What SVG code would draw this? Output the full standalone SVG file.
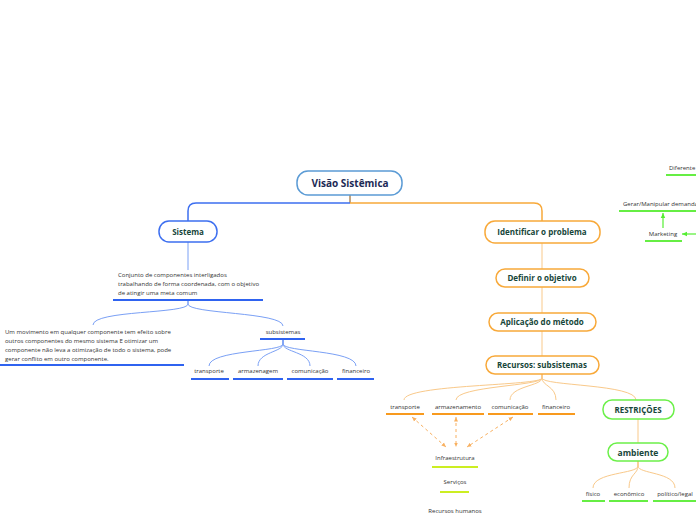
<svg xmlns="http://www.w3.org/2000/svg" width="696" height="520" viewBox="0 0 696 520">
<defs>
<style>
.node{fill:#fff;stroke-width:1.5}
.blue{stroke:#3d6ff0}
.lblue{stroke:#5b9bd5}
.orange{stroke:#f8a93a}
.green{stroke:#6cf04a}
.nt{font-family:"Open Sans","Noto Sans",sans-serif;font-weight:bold;fill:#17463a;text-anchor:middle}
.lt{font-family:"Open Sans","Noto Sans",sans-serif;font-size:6px;fill:#333}
.ltc{font-family:"Open Sans","Noto Sans",sans-serif;font-size:6px;fill:#333;text-anchor:middle}
.ub{stroke:#2f63f0;stroke-width:2}
.uo{stroke:#f89a1e;stroke-width:2}
.ug{stroke:#66ee44;stroke-width:2}
.uy{stroke:#ccee22;stroke-width:2}
.cb{fill:none;stroke:#7aa0f5;stroke-width:1}
.co{fill:none;stroke:#f9c98a;stroke-width:1}
.rel{fill:none;stroke:#f8b060;stroke-width:1;stroke-dasharray:3,3}
.gar{fill:none;stroke:#55ee33;stroke-width:1.2}
</style>
<marker id="ao" viewBox="0 0 10 10" refX="9" refY="5" markerWidth="5" markerHeight="5" orient="auto-start-reverse"><path d="M0,1 L9,5 L0,9 z" fill="#f8b060"/></marker>
<marker id="ag" viewBox="0 0 10 10" refX="9" refY="5" markerWidth="5" markerHeight="5" orient="auto"><path d="M0,1 L9,5 L0,9 z" fill="#55ee33"/></marker>
</defs>

<g id="connectors">
<path d="M350,195 V203" stroke="#b08a5a" stroke-width="1.5" fill="none"/>
<path d="M350,203 H196 Q188,203 188,211 V221" stroke="#3d6ff0" stroke-width="1.5" fill="none"/>
<path d="M350,203 H534 Q542,203 542,211 V221" stroke="#f8a93a" stroke-width="1.5" fill="none"/>
<path class="cb" d="M188,242 V270"/>
<path class="cb" d="M188,301 V304 C188,314 93,310 93,325"/>
<path class="cb" d="M188,301 V304 C188,314 283,312 283,326"/>
<path class="cb" d="M283,340 V344 C283,352 209,350 209,366"/>
<path class="cb" d="M283,340 V344 C283,352 258,352 258,366"/>
<path class="cb" d="M283,340 V344 C283,352 310,352 310,366"/>
<path class="cb" d="M283,340 V344 C283,352 356,350 356,366"/>
<path class="co" d="M542,243 V269"/>
<path class="co" d="M542,287 V313"/>
<path class="co" d="M542,331 V356"/>
<path class="co" d="M542,374 V378 C542,386 404,384 404,400"/>
<path class="co" d="M542,374 V378 C542,386 456,386 456,400"/>
<path class="co" d="M542,374 V378 C542,386 510,386 510,400"/>
<path class="co" d="M542,374 V378 C542,386 556,386 556,400"/>
<path class="co" d="M542,374 V378 C542,386 636,384 636,400"/>
<path class="co" d="M638,419 V443"/>
<path class="co" d="M638,461 V466 C638,474 593,472 593,488"/>
<path class="co" d="M638,461 V466 C638,474 629,474 629,488"/>
<path class="co" d="M638,461 V466 C638,474 675,472 675,488"/>
<path class="rel" d="M412,417 L446,447" marker-start="url(#ao)" marker-end="url(#ao)"/>
<path class="rel" d="M456,417 L456,447" marker-start="url(#ao)" marker-end="url(#ao)"/>
<path class="rel" d="M513,417 L467,447" marker-start="url(#ao)" marker-end="url(#ao)"/>
<path class="gar" d="M663,228 V213" marker-end="url(#ag)"/>
<path class="gar" d="M696,234 H682" marker-end="url(#ag)"/>
</g>

<g id="n-root">
<rect class="node lblue" x="297" y="171" width="105" height="24" rx="11"/>
<text class="nt" x="350" y="187" font-size="10" fill="#1c2a55" style="fill:#1c2a55">Visão Sistêmica</text>
</g>

<g id="n-sistema">
<rect class="node blue" x="159" y="221" width="58" height="21" rx="10"/>
<text class="nt" x="188" y="234.5" font-size="8">Sistema</text>
</g>

<g id="n-conjunto">
<text class="lt" x="118" y="277">Conjunto de componentes interligados</text>
<text class="lt" x="118" y="286">trabalhando de forma coordenada, com o objetivo</text>
<text class="lt" x="118" y="295">de atingir uma meta comum</text>
<line class="ub" x1="113" y1="300" x2="263" y2="300"/>
</g>

<g id="n-movimento">
<text class="lt" x="5" y="334">Um movimento em qualquer componente tem efeito sobre</text>
<text class="lt" x="5" y="343">outros componentes do mesmo sistema E otimizar um</text>
<text class="lt" x="5" y="352">componente não leva a otimização de todo o sistema, pode</text>
<text class="lt" x="5" y="361">gerar conflito em outro componente.</text>
<line class="ub" x1="0" y1="365" x2="184" y2="365"/>
</g>

<g id="n-subsistemas">
<text class="ltc" x="283" y="334">subsistemas</text>
<line class="ub" x1="260" y1="339" x2="305" y2="339"/>
</g>

<g id="n-s-transporte">
<text class="ltc" x="209" y="373">transporte</text>
<line class="ub" x1="191" y1="379" x2="229" y2="379"/>
</g>
<g id="n-s-armazenagem">
<text class="ltc" x="258" y="373">armazenagem</text>
<line class="ub" x1="233" y1="379" x2="283" y2="379"/>
</g>
<g id="n-s-comunicacao">
<text class="ltc" x="310" y="373">comunicação</text>
<line class="ub" x1="287" y1="379" x2="333" y2="379"/>
</g>
<g id="n-s-financeiro">
<text class="ltc" x="356" y="373">financeiro</text>
<line class="ub" x1="337" y1="379" x2="374" y2="379"/>
</g>

<g id="n-identificar">
<rect class="node orange" x="485" y="221" width="115" height="22" rx="10"/>
<text class="nt" x="542" y="235" font-size="8">Identificar o problema</text>
</g>
<g id="n-definir">
<rect class="node orange" x="496" y="269" width="93" height="18" rx="9"/>
<text class="nt" x="542" y="281" font-size="8">Definir o objetivo</text>
</g>
<g id="n-aplicacao">
<rect class="node orange" x="489" y="313" width="107" height="18" rx="9"/>
<text class="nt" x="542" y="325" font-size="8">Aplicação do método</text>
</g>
<g id="n-recursos">
<rect class="node orange" x="486" y="356" width="113" height="18" rx="9"/>
<text class="nt" x="542" y="368" font-size="8">Recursos: subsistemas</text>
</g>

<g id="n-r-transporte">
<text class="ltc" x="405" y="409">transporte</text>
<line class="uo" x1="386" y1="414" x2="424" y2="414"/>
</g>
<g id="n-r-armazenamento">
<text class="ltc" x="458" y="409">armazenamento</text>
<line class="uo" x1="432" y1="414" x2="484" y2="414"/>
</g>
<g id="n-r-comunicacao">
<text class="ltc" x="510" y="409">comunicação</text>
<line class="uo" x1="488" y1="414" x2="533" y2="414"/>
</g>
<g id="n-r-financeiro">
<text class="ltc" x="556" y="409">financeiro</text>
<line class="uo" x1="538" y1="414" x2="575" y2="414"/>
</g>

<g id="n-restricoes">
<rect class="node green" x="603" y="400" width="71" height="19" rx="9"/>
<text class="nt" x="638" y="412.5" font-size="8">RESTRIÇÕES</text>
</g>
<g id="n-ambiente">
<rect class="node green" x="608" y="443" width="60" height="18" rx="9"/>
<text class="nt" x="638" y="455.5" font-size="8.5">ambiente</text>
</g>
<g id="n-fisico">
<text class="ltc" x="593" y="496">físico</text>
<line class="ug" x1="582" y1="501" x2="605" y2="501"/>
</g>
<g id="n-economico">
<text class="ltc" x="629" y="496">econômico</text>
<line class="ug" x1="609" y1="501" x2="648" y2="501"/>
</g>
<g id="n-politico">
<text class="ltc" x="675" y="496">político/legal</text>
<line class="ug" x1="653" y1="501" x2="696" y2="501"/>
</g>

<g id="n-infra">
<text class="ltc" x="455" y="460">Infraestrutura</text>
<line class="uy" x1="432" y1="467" x2="478" y2="467"/>
</g>
<g id="n-servicos">
<text class="ltc" x="455" y="484">Serviços</text>
<line class="uy" x1="440" y1="492" x2="469" y2="492"/>
</g>
<g id="n-rh">
<text class="ltc" x="455" y="513">Recursos humanos</text>
</g>

<g id="n-diferente">
<text class="lt" x="669" y="170">Diferente</text>
<line class="ug" x1="666" y1="175" x2="696" y2="175"/>
</g>
<g id="n-gerar">
<text class="lt" x="623" y="206">Gerar/Manipular demanda</text>
<line class="ug" x1="619" y1="211" x2="696" y2="211"/>
</g>
<g id="n-marketing">
<text class="ltc" x="663" y="236">Marketing</text>
<line class="ug" x1="645" y1="241" x2="682" y2="241"/>
</g>
</svg>
